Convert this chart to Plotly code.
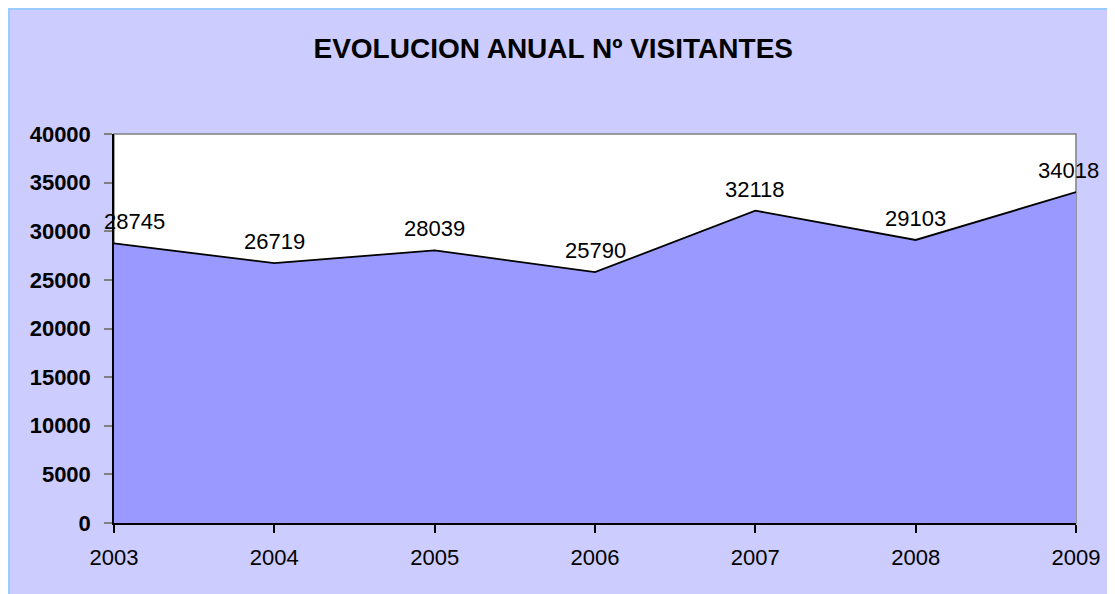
import plotly.graph_objects as go

years = [2003, 2004, 2005, 2006, 2007, 2008, 2009]
visitantes = [28745, 26719, 28039, 25790, 32118, 29103, 34018]
y_ticks = [0, 5000, 10000, 15000, 20000, 25000, 30000, 35000, 40000]

FONT = "Arial, Liberation Sans, sans-serif"
W, H = 1115, 594
L, R, T, B = 106, 47, 126, 79

fig = go.Figure()
fig.add_trace(go.Scatter(
    x=years, y=visitantes,
    mode="lines",
    fill="tozeroy",
    fillcolor="#9999FF",
    line=dict(color="black", width=1.8),
    hoverinfo="x+y",
))

# data labels above each point (end ones nudged inward like Excel does)
for i, (yr, v) in enumerate(zip(years, visitantes)):
    dx = 20 if i == 0 else (-8 if i == len(years) - 1 else 0)
    fig.add_annotation(x=yr, y=v, text=str(v), showarrow=False,
                       yanchor="bottom", yshift=7, xshift=dx,
                       font=dict(family=FONT, size=22, color="black"))

# light blue frame on top/left of the chart (right/bottom run off the page),
# white plot area with grey border
pw, ph = W - L - R, H - T - B
fig.add_shape(type="rect", xref="paper", yref="paper",
              x0=-L / pw, x1=(W - L + 40) / pw, y0=-(B + 40) / ph, y1=1 + T / ph,
              fillcolor="#CCCCFF", line=dict(color="#99CCFF", width=4),
              layer="below")
fig.add_shape(type="rect", xref="paper", yref="paper",
              x0=0, x1=1, y0=0, y1=1,
              fillcolor="white", line=dict(color="#808080", width=1.5),
              layer="below")

fig.update_layout(
    width=W, height=H,
    margin=dict(l=L, r=R, t=T, b=B),
    paper_bgcolor="#CCCCFF",
    plot_bgcolor="rgba(0,0,0,0)",
    showlegend=False,
    font=dict(family=FONT, color="black"),
    title=dict(text="<b>EVOLUCION ANUAL Nº VISITANTES</b>",
               x=0.489, xref="container", xanchor="center",
               y=1 - 40 / H, yref="container", yanchor="middle",
               font=dict(family=FONT, size=28, color="black")),
)

fig.update_xaxes(
    range=[2003, 2009], tickvals=years, ticktext=[str(y) for y in years],
    showgrid=False, zeroline=False,
    showline=True, linecolor="black", linewidth=1.5,
    ticks="outside", ticklen=8, tickwidth=1.5, tickcolor="black",
    ticklabelstandoff=6,
    tickfont=dict(family=FONT, size=22, color="black"),
)
fig.update_yaxes(
    range=[0, 40000], tickvals=y_ticks,
    ticktext=[f"<b>{t}</b>" for t in y_ticks],
    showgrid=False, zeroline=False,
    showline=True, linecolor="black", linewidth=1.5,
    ticks="outside", ticklen=8, tickwidth=1.5, tickcolor="#808080",
    ticklabelstandoff=9,
    tickfont=dict(family=FONT, size=22, color="black"),
)

fig.write_html("out.html")
